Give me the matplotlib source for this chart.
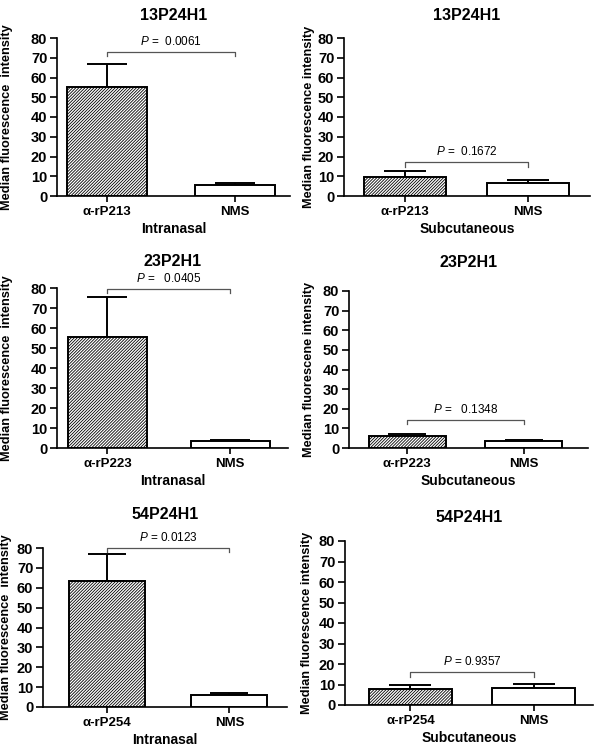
import matplotlib

matplotlib.use("Agg")
import matplotlib.pyplot as plt
import numpy as np

plt.rcParams["font.family"] = ["Liberation Sans", "DejaVu Sans"]
plt.rcParams["mathtext.fontset"] = "custom"
plt.rcParams["mathtext.rm"] = "Liberation Sans"
plt.rcParams["mathtext.it"] = "Liberation Sans:italic"
plt.rcParams["hatch.linewidth"] = 0.6

# data
strains = ["13P24H1", "23P2H1", "54P24H1"]
antigens = ["α-rP213", "α-rP223", "α-rP254"]
routes = ["Intranasal", "Subcutaneous"]

in_immune = [55.0, 55.5, 63.5]
in_immune_err = [12.0, 20.0, 13.5]
in_nms = [5.5, 3.3, 6.0]
in_nms_err = [1.2, 0.5, 1.0]
in_pvals = ["0.0061", "0.0405", "0.0123"]

sc_immune = [9.5, 6.0, 8.0]
sc_immune_err = [3.0, 1.0, 1.8]
sc_nms = [6.8, 3.8, 8.3]
sc_nms_err = [1.4, 0.3, 1.9]
sc_pvals = ["0.1672", "0.1348", "0.9357"]

ylabels = [
    ["Median fluorescence  intensity", "Median fluorescence intensity"],
    ["Median fluorescence  intensity", "Median fluorescene intensity"],
    ["Median fluorescence  intensity", "Median fluorescence intensity"],
]

# layout (pixels of a 602x750 canvas): left, right, top, bottom
W, H = 602, 750
rects = [
    [(57, 290, 38, 196), (344, 590, 38, 196)],
    [(57, 288, 288, 448), (349, 588, 291, 448)],
    [(43, 287, 548, 707), (345, 593, 541, 705)],
]
ylabel_x = [[13, 315], [13, 315], [12, 313]]
xlims = [
    [(-0.39, 1.43), (-0.50, 1.51)],
    [(-0.41, 1.47), (-0.50, 1.55)],
    [(-0.52, 1.47), (-0.53, 1.48)],
]
widths = [[0.62, 0.67], [0.64, 0.66], [0.62, 0.67]]
title_pads = [[13, 13], [16, 17], [21, 14]]
bracket_y = [[73.0, 17.0], [79.5, 14.3], [80.0, 16.1]]
p_spacing = [["  ", "  "], ["   ", "   "], [" ", " "]]

fig = plt.figure(figsize=(W / 100, H / 100), dpi=100)

for r in range(3):
    for c in range(2):
        left, right, top, bottom = rects[r][c]
        ax = fig.add_axes([left / W, 1 - bottom / H, (right - left) / W, (bottom - top) / H])
        if c == 0:
            vals = [in_immune[r], in_nms[r]]
            errs = [in_immune_err[r], in_nms_err[r]]
            pval = in_pvals[r]
        else:
            vals = [sc_immune[r], sc_nms[r]]
            errs = [sc_immune_err[r], sc_nms_err[r]]
            pval = sc_pvals[r]
        x = np.arange(2)
        w = widths[r][c]
        ax.bar(x[0], vals[0], width=w, color="white", edgecolor="black",
               hatch="/" * 11, linewidth=1.4, zorder=3)
        ax.bar(x[1], vals[1], width=w, color="white", edgecolor="black",
               linewidth=1.4, zorder=3)
        # upper error bars only, caps about half a bar wide
        bar_px = w * (right - left) / (xlims[r][c][1] - xlims[r][c][0])
        ax.errorbar(x, vals, yerr=[[0, 0], errs], fmt="none", ecolor="black",
                    elinewidth=1.4, capsize=bar_px * 0.25 * 0.72,
                    capthick=1.4, zorder=2)

        # significance bracket
        by = bracket_y[r][c]
        drop = 2.2
        ax.plot([x[0], x[0], x[1], x[1]], [by - drop, by, by, by - drop],
                color="#555555", lw=0.9, clip_on=False, zorder=4)
        ax.text(0.5, by + 2.0, r"$P$ =" + p_spacing[r][c] + pval,
                ha="center", va="bottom", fontsize=8.5, clip_on=False)

        ax.set_xlim(*xlims[r][c])
        ax.set_ylim(0, 80)
        ax.set_yticks(np.arange(0, 81, 10))
        ax.set_xticks(x)
        ax.set_xticklabels([antigens[r], "NMS"], fontsize=9.5, fontweight="bold")
        ax.tick_params(axis="y", labelsize=10.5, width=1.2, length=5, pad=2)
        ax.tick_params(axis="x", width=1.2, length=4, pad=3)
        for lab in ax.get_yticklabels():
            lab.set_fontweight("bold")
        for side in ("top", "right"):
            ax.spines[side].set_visible(False)
        for side in ("left", "bottom"):
            ax.spines[side].set_linewidth(1.2)
        ax.set_ylabel(ylabels[r][c], fontsize=9.2, fontweight="bold")
        ax.yaxis.set_label_coords((ylabel_x[r][c] - left) / (right - left), 0.5)
        ax.set_xlabel(routes[c], fontsize=10, fontweight="bold", labelpad=3)
        ax.set_title(strains[r], fontsize=11.5, fontweight="bold", pad=title_pads[r][c])

fig.savefig("out.png", dpi=100)
